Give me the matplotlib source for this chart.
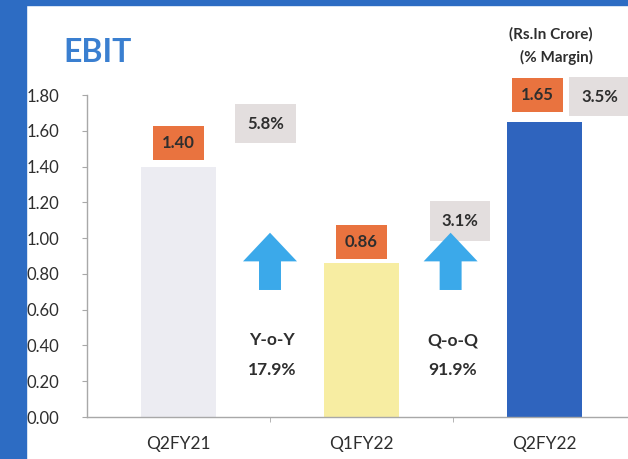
import matplotlib
matplotlib.use("Agg")
import matplotlib.pyplot as plt
from matplotlib.patches import Rectangle, FancyArrow

categories = ["Q2FY21", "Q1FY22", "Q2FY22"]
ebit = [1.40, 0.86, 1.65]
margins = ["5.8%", "3.1%", "3.5%"]
yticks = [0.0, 0.2, 0.4, 0.6, 0.8, 1.0, 1.2, 1.4, 1.6, 1.8]
growth_labels = ["Y-o-Y", "Q-o-Q"]
growth_values = ["17.9%", "91.9%"]

bar_colors = ["#ECECF2", "#F7EDA2", "#2F64BE"]
FONT = "Lato"
TXT = "#2E2E2E"

fig = plt.figure(figsize=(6.28, 4.59), dpi=100)
fig.patch.set_facecolor("white")

W, H = 628, 459
ax = fig.add_axes([87 / W, 1 - 417 / H, (636 - 87) / W, (417 - 95) / H])
x = list(range(len(categories)))
ax.bar(x, ebit, width=0.41, color=bar_colors, zorder=2)
ax.set_xlim(-0.5, 2.5)
ax.set_ylim(0, 1.8)
ax.set_yticks(yticks)
ax.set_yticklabels([f"{v:.2f}" for v in yticks], fontsize=12, color=TXT, family=FONT)
ax.set_xticks(x)
ax.set_xticklabels(categories, fontsize=12.5, color=TXT, family=FONT)
ax.tick_params(axis="x", length=0, pad=14)
ax.set_xticks([0.5, 1.5], minor=True)
ax.tick_params(axis="x", which="minor", length=3.6, color="#A8A8A8", direction="out")
ax.tick_params(axis="y", length=3.6, color="#A8A8A8", direction="out", pad=39.6)
for lab in ax.get_yticklabels():
    lab.set_horizontalalignment("left")
for s in ["top", "right"]:
    ax.spines[s].set_visible(False)
for s in ["left", "bottom"]:
    ax.spines[s].set_color("#A8A8A8")
    ax.spines[s].set_linewidth(1.0)

# value labels (orange boxes)
val_dy = [0.13, 0.12, 0.15]
val_dx = [0.0, 0.0, -0.04]
for i, v in enumerate(ebit):
    ax.text(x[i] + val_dx[i], v + val_dy[i], f"{v:.2f}", ha="center", va="center",
            fontsize=12, fontweight="bold", color=TXT, family=FONT, zorder=4,
            bbox=dict(boxstyle="square,pad=0.55", fc="#E9733F", ec="none"))

# margin labels (grey boxes)
mpos = [(0.475, 1.64), (1.54, 1.095), (2.30, 1.79)]
for (mx, my), m in zip(mpos, margins):
    ax.text(mx, my, m, ha="center", va="center", fontsize=12, fontweight="bold",
            color=TXT, family=FONT, zorder=3, clip_on=False,
            bbox=dict(boxstyle="square,pad=0.7", fc="#E3DEDE", ec="none"))

# growth arrows and texts
arrow_x = [0.50, 1.487]
for ax_x, lab, val in zip(arrow_x, growth_labels, growth_values):
    ax.add_patch(FancyArrow(ax_x, 0.71, 0, 0.32, width=0.12, head_width=0.295,
                            head_length=0.16, length_includes_head=True,
                            color="#3BA9EA", ec="none", zorder=3))
    ax.text(ax_x + 0.01, 0.43, lab, ha="center", va="center", fontsize=12.5,
            fontweight="bold", color=TXT, family=FONT)
    ax.text(ax_x + 0.01, 0.26, val, ha="center", va="center", fontsize=12.5,
            fontweight="bold", color=TXT, family=FONT)

# title and unit note
fig.text(63 / W, 1 - 62 / H, "EBIT", ha="left", va="baseline", fontsize=23,
         fontweight="bold", color="#3A7FD0", family=FONT)
fig.text(551 / W, 1 - 34 / H, "(Rs.In Crore)", ha="center", va="center",
         fontsize=11, fontweight="bold", color=TXT, family=FONT)
fig.text(557 / W, 1 - 57 / H, "(% Margin)", ha="center", va="center",
         fontsize=11, fontweight="bold", color=TXT, family=FONT)

# frame
fig.patches.append(Rectangle((0, 0), 26 / W, 1, transform=fig.transFigure,
                             color="#2D6CC3", zorder=0))
fig.patches.append(Rectangle((0, 1 - 5 / H), 1, 5 / H, transform=fig.transFigure,
                             color="#2D6CC3", zorder=0))

fig.savefig("out.png", dpi=100)
